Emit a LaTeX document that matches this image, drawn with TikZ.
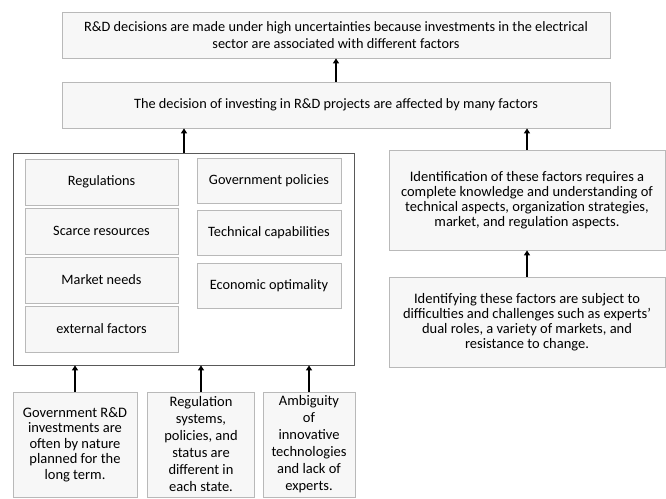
\documentclass[tikz,border=0pt]{standalone}
\usepackage{fontspec}
\setmainfont{Carlito}
\usetikzlibrary{arrows.meta}
\usetikzlibrary{shadows}

\tikzset{
  card/.style={draw=gray!55, fill=gray!6, line width=0.8pt, inner sep=0pt, align=center,
    font=\fontsize{14.3}{16}\selectfont,
    drop shadow={shadow xshift=0.8pt, shadow yshift=-1.3pt, fill=gray!50, opacity=0.7}},
  up/.style={line width=1.8pt, -{Triangle[length=5pt,width=6pt]}},
}

\begin{document}
\begin{tikzpicture}[x=1pt,y=-1pt]
\useasboundingbox (0,0) rectangle (666,498);
% top chain
\node [card, minimum width=548pt, minimum height=46pt, font=\fontsize{14.3}{17.5}\selectfont] (uncert) at (336,35)
  {R\&D decisions are made under high uncertainties because investments in the electrical\\sector are associated with different factors};
\node [card, minimum width=548pt, minimum height=46pt] (decision) at (336,105)
  {The decision of investing in R\&D projects are affected by many factors};
\draw [up] (decision.north) -- (uncert.south);

% factors block
\node [draw=gray!70!black, line width=0.8pt, minimum width=341pt, minimum height=212pt] (factors) at (184,259) {};
\node [card, minimum width=153pt, minimum height=46pt] (regul) at (101.5,182) {Regulations};
\node [card, minimum width=153pt, minimum height=46pt] (scarce) at (101.5,231) {Scarce resources};
\node [card, minimum width=153pt, minimum height=46pt] (market) at (101.5,280) {Market needs};
\node [card, minimum width=153pt, minimum height=46pt] (external) at (101.5,329) {external factors};
\node [card, minimum width=144pt, minimum height=45pt] (govpol) at (269,180.5) {Government policies};
\node [card, minimum width=144pt, minimum height=45pt] (techcap) at (269,232.5) {Technical capabilities};
\node [card, minimum width=144pt, minimum height=45pt] (econopt) at (269,285.5) {Economic optimality};
\draw [up] (factors.north) -- (factors.north |- decision.south);

% right chain
\node [card, minimum width=276pt, minimum height=100pt, font=\fontsize{14.5}{15}\selectfont] (identif) at (527,200)
  {Identification of these factors requires a\\complete knowledge and understanding of\\technical aspects, organization strategies,\\market, and regulation aspects.};
\node [card, minimum width=276pt, minimum height=90pt, font=\fontsize{14.5}{15}\selectfont] (difficult) at (527,322)
  {Identifying these factors are subject to\\difficulties and challenges such as experts'\\dual roles, a variety of markets, and\\resistance to change.};
\draw [up] (identif.north) -- (identif.north |- decision.south);
\draw [up] (difficult.north) -- (identif.south);

% causes below
\node [card, minimum width=124pt, minimum height=105pt, font=\fontsize{14.5}{15.6}\selectfont] (govinv) at (75,444.5)
  {Government R\&D\\investments are\\often by nature\\planned for the\\long term.};
\node [card, minimum width=107pt, minimum height=105pt, font=\fontsize{14.5}{17}\selectfont] (regsys) at (201,444.5)
  {Regulation\\systems,\\policies, and\\status are\\different in\\each state.};
\node [card, minimum width=92pt, minimum height=105pt, font=\fontsize{14.5}{17}\selectfont] (ambig) at (309,444.5)
  {Ambiguity\\of\\innovative\\technologies\\and lack of\\experts.};
\draw [up] (govinv.north) -- (govinv.north |- factors.south);
\draw [up] (regsys.north) -- (regsys.north |- factors.south);
\draw [up] (ambig.north) -- (ambig.north |- factors.south);

\end{tikzpicture}
\end{document}
